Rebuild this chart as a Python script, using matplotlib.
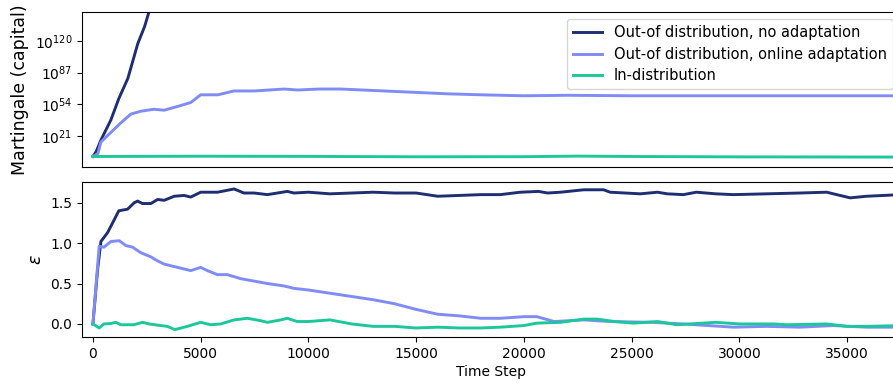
import numpy as np
import matplotlib
matplotlib.use("Agg")
import matplotlib.pyplot as plt

NAVY = "#1f2d73"
LIGHT = "#7f8cf6"
GREEN = "#1cc79b"

labels = [
    "Out-of distribution, no adaptation",
    "Out-of distribution, online adaptation",
    "In-distribution",
]

# martingale (log10 of capital)
t_mart_no = [0, 150, 370, 834, 1200, 1620, 2080, 2400, 2600, 3000, 3500]
logm_no = [0, 5, 17, 38, 60, 81, 117, 135, 150, 175, 200]

t_mart_on = [0, 230, 370, 834, 1300, 1760, 2230, 2830, 3300, 3940, 4540, 5000,
             5800, 6540, 7500, 8870, 9500, 10500, 11500, 12500, 13500, 14500,
             15500, 16500, 18000, 20000, 22000, 25000, 28000, 31000, 34000, 37500]
logm_on = [0, 3, 15, 25, 35, 44, 47, 49, 48, 52, 56, 64,
           64, 68, 68, 70, 69, 70, 70, 69, 68, 67,
           66, 65, 64, 63, 63.5, 63, 63, 63, 63, 63]

t_mart_in = [0, 5000, 10000, 15000, 20000, 22500, 25000, 30000, 37500]
logm_in = [0, 0.3, 0.1, -0.3, -0.2, 0.4, 0, -0.4, -0.6]

# epsilon
t_eps_no = [0, 216, 370, 680, 990, 1200, 1607, 1917, 2070, 2300, 2690, 3000,
            3310, 3770, 4230, 4540, 5000, 5780, 6550, 7010, 7480, 8100, 9020,
            9330, 10000, 11000, 12000, 13000, 14000, 15000, 16000, 17000,
            18000, 18900, 19840, 20680, 21100, 21700, 22780, 23700, 24000,
            25400, 26200, 26650, 27400, 28000, 28900, 29720, 31270, 32800,
            34050, 35140, 35900, 37500]
eps_no = [0.0, 0.67, 1.02, 1.13, 1.29, 1.40, 1.42, 1.50, 1.52, 1.49, 1.49, 1.54,
          1.53, 1.58, 1.59, 1.57, 1.63, 1.63, 1.67, 1.62, 1.62, 1.60, 1.64,
          1.62, 1.63, 1.61, 1.62, 1.63, 1.62, 1.62, 1.58, 1.59,
          1.60, 1.60, 1.63, 1.64, 1.62, 1.63, 1.66, 1.66, 1.63,
          1.61, 1.63, 1.61, 1.60, 1.63, 1.61, 1.60, 1.61, 1.62,
          1.63, 1.56, 1.58, 1.60]

t_eps_on = [0, 290, 510, 834, 1220, 1530, 1840, 2230, 2690, 3000, 3310, 3770,
            4230, 4540, 5000, 5310, 5780, 6240, 6860, 7480, 8100, 8870, 9330,
            10000, 11000, 12000, 13000, 14000, 15000, 16000, 17000, 18000,
            18900, 20000, 20600, 21400, 22780, 24000, 25900, 27400, 29720,
            31270, 32800, 34350, 35900, 37500]
eps_on = [0.0, 0.96, 0.95, 1.02, 1.03, 0.97, 0.95, 0.88, 0.83, 0.78, 0.74, 0.71,
          0.68, 0.66, 0.70, 0.66, 0.61, 0.61, 0.56, 0.53, 0.50, 0.47, 0.44,
          0.42, 0.38, 0.34, 0.30, 0.25, 0.18, 0.12, 0.10, 0.07,
          0.07, 0.09, 0.09, 0.03, 0.05, 0.03, 0.02, 0.0, -0.04,
          -0.03, -0.04, -0.02, -0.04, -0.04]

t_eps_in = [0, 290, 510, 834, 1060, 1300, 1600, 1900, 2300, 2600, 3150, 3450,
            3800, 4380, 5000, 5470, 5930, 6550, 7170, 7780, 8100, 8720, 9020,
            9480, 10000, 11000, 12000, 13000, 14000, 15000, 16000, 17000,
            18000, 18900, 20000, 20600, 21700, 22780, 23400, 24200, 25100,
            26200, 27100, 28900, 30000, 31600, 32200, 34050, 35000, 35900,
            37500]
eps_in = [0.0, -0.05, 0.0, 0.005, 0.02, -0.01, -0.01, -0.01, 0.02, 0.0, -0.02, -0.03,
          -0.07, -0.03, 0.02, -0.01, 0.0, 0.05, 0.07, 0.04, 0.02, 0.05, 0.07,
          0.03, 0.03, 0.05, 0.0, -0.03, -0.03, -0.05, -0.04, -0.05,
          -0.05, -0.04, -0.02, 0.01, 0.02, 0.06, 0.06, 0.03, 0.01,
          0.03, -0.01, 0.02, 0.0, 0.0, -0.01, 0.0, -0.03, -0.03,
          -0.02]

fig = plt.figure(figsize=(8.93, 3.85), dpi=100)
ax1 = fig.add_axes([0.092, 0.566, 0.916, 0.403])
ax2 = fig.add_axes([0.092, 0.125, 0.916, 0.402], sharex=ax1)

lw = 2.1
ax1.plot(t_mart_no, 10.0 ** np.array(logm_no), color=NAVY, lw=lw, label=labels[0])
ax1.plot(t_mart_on, 10.0 ** np.array(logm_on), color=LIGHT, lw=lw, label=labels[1])
ax1.plot(t_mart_in, 10.0 ** np.array(logm_in), color=GREEN, lw=lw, label=labels[2])
ax1.set_yscale("log")
ax1.set_ylim(1e-11, 1e150)
ax1.set_yticks([1e21, 1e54, 1e87, 1e120])
ax1.minorticks_off()
ax1.tick_params(axis="x", bottom=False, labelbottom=False)
ax1.set_ylabel("Martingale (capital)", fontsize=12.5)
ax1.legend(loc="upper right", fontsize=10.5, borderaxespad=0.5,
           handlelength=2.0, labelspacing=0.45)

ax2.plot(t_eps_no, eps_no, color=NAVY, lw=lw)
ax2.plot(t_eps_on, eps_on, color=LIGHT, lw=lw)
ax2.plot(t_eps_in, eps_in, color=GREEN, lw=lw)
ax2.set_ylim(-0.16, 1.755)
ax2.set_yticks([0.0, 0.5, 1.0, 1.5])
ax2.set_xlim(-500, 37460)
ax2.set_xticks(range(0, 37000, 5000))
ax2.set_ylabel(r"$\varepsilon$", fontsize=12.5)
ax2.set_xlabel("Time Step", fontsize=10, labelpad=3)

for ax in (ax1, ax2):
    ax.tick_params(labelsize=10)

fig.savefig("out.png", dpi=100)
